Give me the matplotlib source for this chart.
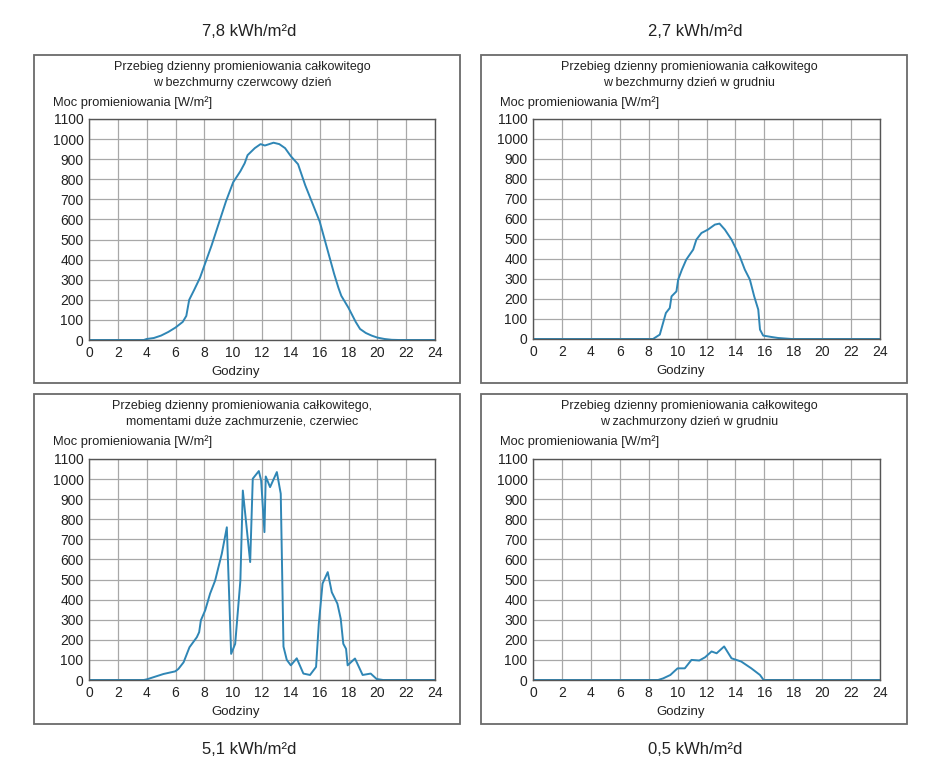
import matplotlib
matplotlib.use("Agg")
import matplotlib.pyplot as plt
from matplotlib.patches import Rectangle

plt.rcParams['font.family'] = ['Liberation Sans', 'DejaVu Sans']

# data (hour of day, irradiance W/m2)
june_clear_h = [0, 3.8, 4.0, 4.5, 5.0, 5.5, 6.0, 6.5, 6.75, 6.95, 7.3, 7.7, 8.0, 8.5, 9.0, 9.5,
                10.0, 10.5, 10.8, 11.0, 11.5, 11.9, 12.2, 12.5, 12.8, 13.2, 13.6, 14.0, 14.5,
                15.0, 15.5, 16.0, 16.5, 17.0, 17.3, 17.5, 18.0, 18.5, 18.8, 19.2, 19.6, 20.0,
                20.5, 21.0, 21.5, 24]
june_clear_w = [0, 0, 5, 10, 22, 40, 62, 90, 120, 200, 250, 310, 370, 470, 580, 690,
                785, 840, 880, 920, 955, 975, 968, 975, 982, 975, 955, 915, 875,
                770, 680, 590, 460, 330, 260, 220, 160, 90, 55, 35, 22, 12,
                5, 1, 0, 0]

dec_clear_h = [0, 8.3, 8.77, 9.19, 9.46, 9.58, 9.92, 10.04, 10.3, 10.6, 11.08, 11.3, 11.65,
               12.1, 12.58, 12.9, 13.27, 13.73, 14.3, 14.65, 15.0, 15.3, 15.58, 15.7, 15.92,
               16.5, 16.96, 17.9, 24]
dec_clear_w = [0, 0, 22, 130, 155, 213, 238, 297, 347, 397, 447, 497, 530,
               547, 572, 577, 547, 497, 413, 347, 297, 213, 147, 47, 17,
               10, 5, 0, 0]

june_cloudy_h = [0, 3.8, 4.0, 5.17, 5.98, 6.2, 6.56, 6.97, 7.48, 7.64, 7.76, 8.06, 8.4, 8.75,
                 8.98, 9.21, 9.56, 9.86, 10.14, 10.5, 10.67, 11.18, 11.36, 11.78, 11.94, 12.17,
                 12.26, 12.56, 13.03, 13.3, 13.49, 13.72, 14.0, 14.41, 14.87, 15.33, 15.75,
                 15.94, 16.2, 16.56, 16.84, 17.23, 17.46, 17.64, 17.83, 17.94, 18.45, 18.98,
                 19.54, 19.95, 20.4, 24]
june_cloudy_w = [0, 0, 3, 30, 43, 55, 88, 163, 213, 238, 297, 347, 430, 495,
                 562, 628, 760, 130, 180, 495, 943, 587, 1002, 1040, 993, 736,
                 1013, 960, 1035, 927, 166, 100, 73, 108, 32, 25, 65,
                 280, 480, 537, 437, 380, 305, 180, 155, 73, 107, 25,
                 32, 5, 0, 0]

dec_cloudy_h = [0, 8.65, 9.0, 9.5, 9.8, 10.0, 10.5, 10.96, 11.5, 11.9, 12.35, 12.7, 13.22,
                13.73, 14.4, 15.1, 15.7, 15.95, 24]
dec_cloudy_w = [0, 0, 8, 25, 45, 58, 58, 100, 97, 113, 142, 133, 167,
                108, 92, 58, 25, 0, 0]

titles = ["Przebieg dzienny promieniowania całkowitego\nw bezchmurny czerwcowy dzień",
          "Przebieg dzienny promieniowania całkowitego\nw bezchmurny dzień w grudniu",
          "Przebieg dzienny promieniowania całkowitego,\nmomentami duże zachmurzenie, czerwiec",
          "Przebieg dzienny promieniowania całkowitego\nw zachmurzony dzień w grudniu"]
energy = ["7,8 kWh/m²d", "2,7 kWh/m²d", "5,1 kWh/m²d", "0,5 kWh/m²d"]
series = [(june_clear_h, june_clear_w), (dec_clear_h, dec_clear_w),
          (june_cloudy_h, june_cloudy_w), (dec_cloudy_h, dec_cloudy_w)]

W, H = 938, 776
fig = plt.figure(figsize=(W / 100, H / 100), dpi=100)

# pixel layout: (box left, box top, box right, box bottom, axes left, axes top, axes right, axes bottom)
boxes = [(34, 55, 460, 383, 89, 119, 435, 340),
         (481, 55, 907, 383, 533, 119, 880, 339),
         (34, 394, 460, 724, 89, 459, 435, 680),
         (481, 394, 907, 724, 533, 459, 880, 680)]
label_pos = [(249, 31), (695, 31), (249, 750), (695, 750)]

line_col = '#2f86b5'

for i, (bl, bt, br, bb, al, at, ar, ab) in enumerate(boxes):
    # frame around each panel
    fig.patches.append(Rectangle((bl / W, 1 - bb / H), (br - bl) / W, (bb - bt) / H,
                                 transform=fig.transFigure, fill=False,
                                 edgecolor='#6a6a6a', linewidth=1.3))
    ax = fig.add_axes([al / W, 1 - ab / H, (ar - al) / W, (ab - at) / H])
    hours, watts = series[i]
    ax.plot(hours, watts, color=line_col, lw=1.4)
    ax.set_xlim(0, 24)
    ax.set_ylim(0, 1100)
    ax.set_xticks(range(0, 25, 2))
    ax.set_yticks(range(0, 1101, 100))
    ax.grid(True, color='#a8a8a8', lw=0.9)
    ax.set_axisbelow(True)
    ax.tick_params(length=0, labelsize=10, colors='#222222', pad=4)
    for s in ax.spines.values():
        s.set_color('#555555')
        s.set_linewidth(1.0)

    cx = (bl + br) / 2 - 5
    fig.text(cx / W, 1 - (bt + 20) / H, titles[i], ha='center', va='center',
             fontsize=9, color='#222222', linespacing=1.4)
    fig.text((bl + 19) / W, 1 - (bt + 48) / H, "Moc promieniowania [W/m²]",
             ha='left', va='center', fontsize=9.3, color='#222222')
    fig.text((al + ar) / 2 / W - 26 / W, 1 - (ab + 32) / H, "Godziny",
             ha='center', va='center', fontsize=9.5, color='#222222')

    lx, ly = label_pos[i]
    fig.text(lx / W, 1 - ly / H, energy[i], ha='center', va='center',
             fontsize=12, color='#222222')

fig.savefig('out.png', dpi=100, facecolor='white')
